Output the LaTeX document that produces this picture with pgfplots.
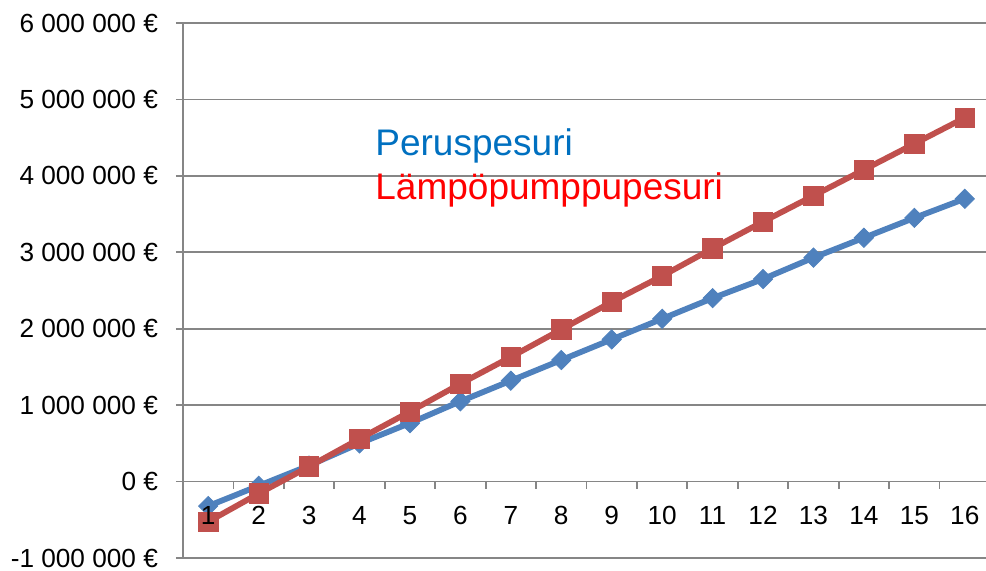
\documentclass[border=0pt]{standalone}
\usepackage{fontspec}
\setmainfont{Liberation Sans}
\usepackage{pgfplots}
\pgfplotsset{compat=1.18}
\definecolor{axgray}{HTML}{868686}
\definecolor{serblue}{HTML}{4F81BD}
\definecolor{serred}{HTML}{C0504D}
\definecolor{txtblue}{HTML}{0070C0}
\definecolor{txtred}{HTML}{FF0000}
\pgfplotsset{common/.style={
  at={(0,0)}, anchor=south west,
  scale only axis,
  width=403.5pt, height=267.5pt,
  xmin=0.5, xmax=16.5,
  ymin=-1000000, ymax=6000000,
  scaled y ticks=false,
  ticklabel style={font=\fontsize{13.1}{15}\selectfont, text=black},
  clip=false,
}}
\begin{document}
\begin{tikzpicture}
\useasboundingbox (-91.5pt,-6pt) rectangle (401.5pt,279pt);
\begin{axis}[
  common,
  axis y line*=left,
  axis x line*=middle,
  axis line style={axgray, line width=0.9pt, -},
  ymajorgrids,
  grid style={axgray, line width=0.9pt},
  ytick={-1000000,0,1000000,2000000,3000000,4000000,5000000,6000000},
  yticklabels={-1 000 000 €,0 €,1 000 000 €,2 000 000 €,3 000 000 €,4 000 000 €,5 000 000 €,6 000 000 €},
  xtick={1.5,2.5,...,16.5},
  xticklabels={},
  hide obscured x ticks=false,
  hide obscured y ticks=false,
  tick align=outside,
  major tick length=3.5pt,
  tick style={axgray, line width=0.9pt},
  yticklabel style={xshift=-5.5pt},
]
\addplot[serblue, line width=2.9pt, mark=square*, mark size=3.4pt, mark options={rotate=45, fill=serblue, draw=serblue, line width=0.4pt}]
coordinates {
(1,-320000) (2,-55000) (3,210000) (4,500000) (5,765000) (6,1050000) (7,1320000) (8,1590000)
(9,1860000) (10,2130000) (11,2400000) (12,2650000) (13,2930000) (14,3190000) (15,3450000) (16,3700000)
};
\addplot[serred, line width=2.9pt, mark=square*, mark size=4.85pt, mark options={fill=serred, draw=serred, line width=0.4pt}]
coordinates {
(1,-525000) (2,-157000) (3,196000) (4,560000) (5,915000) (6,1280000) (7,1630000) (8,1990000)
(9,2350000) (10,2690000) (11,3050000) (12,3400000) (13,3740000) (14,4080000) (15,4420000) (16,4760000)
};
\node[anchor=base west, inner sep=0pt, text=txtblue, font=\fontsize{18.5}{22}\selectfont] at (axis cs:4.307,4270000) {Peruspesuri};
\node[anchor=base west, inner sep=0pt, text=txtred, font=\fontsize{18.5}{22}\selectfont] at (axis cs:4.307,3690000) {Lämpöpumppupesuri};
\end{axis}
% overlay axis: category labels drawn on top of the series
\begin{axis}[
  common,
  axis y line=none,
  axis x line*=bottom,
  axis line style={draw=none},
  major tick length=0pt,
  tick style={draw=none},
  xtick={1,2,...,16},
  xticklabels={1,2,3,4,5,6,7,8,9,10,11,12,13,14,15,16},
  xticklabel style={anchor=north, text height=9.5pt, text depth=0pt, yshift=30pt},
]
\end{axis}
\end{tikzpicture}
\end{document}
